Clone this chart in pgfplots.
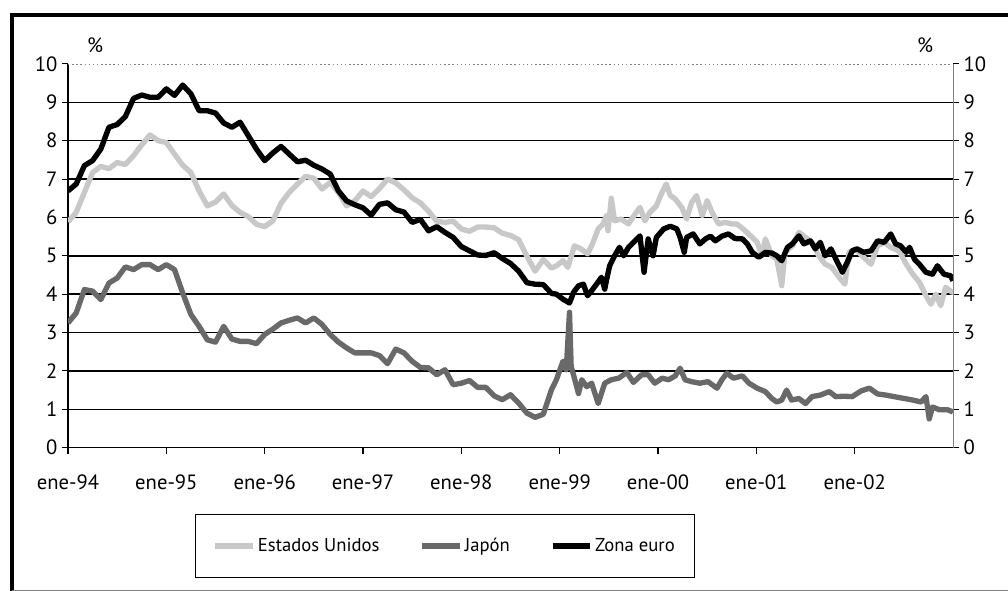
\documentclass[border=0pt]{standalone}
\usepackage{fontspec}
\setmainfont{PT Sans}
\usepackage{pgfplots}
\pgfplotsset{compat=1.18}
\definecolor{usgray}{RGB}{200,200,200}
\definecolor{jpgray}{RGB}{105,105,105}
\newcommand\ff{\fontsize{15.5}{18}\selectfont}
\newcommand\fl{\fontsize{14}{16}\selectfont}

\begin{document}
\begin{tikzpicture}[x=0.75pt,y=0.75pt]
\useasboundingbox (0,0) rectangle (1008,591);
% outer frame
\draw[line width=3pt] (11.7,0) -- (11.7,576.3) -- (1010,576.3);
\draw[gray, line width=0.8pt] (11.7,0.8) -- (1008,0.8);
\node[font=\ff] at (95,546) {\%};
\node[font=\ff] at (925,546) {\%};

% right-hand axis
\begin{axis}[
    at={(51pt,107.5pt)}, anchor=south west,
    scale only axis, width=663.75pt, height=287.8pt,
    xmin=0, xmax=108, ymin=0, ymax=10,
    axis x line=none, axis y line=right,
    axis line style={-, gray, line width=0.5pt},
    ytick={0,...,10},
    tick align=outside, major tick length=4.5pt,
    tick style={black, line width=0.8pt},
    tick label style={font=\ff},
    /pgf/number format/assume math mode=true,
]
\end{axis}

\begin{axis}[
    at={(51pt,107.5pt)}, anchor=south west,
    scale only axis, width=663.75pt, height=287.8pt,
    xmin=0, xmax=108, ymin=0, ymax=10,
    axis x line=bottom, axis y line=left,
    axis line style={-, black, line width=1pt},
    xtick={0,12,...,96},
    xticklabels={ene-94,ene-95,ene-96,ene-97,ene-98,ene-99,ene-00,ene-01,ene-02},
    ytick={0,...,9},
    extra y ticks={10},
    extra y tick style={grid style={gray, dotted, line width=0.5pt}},
    ymajorgrids, grid style={black, line width=1.1pt},
    tick align=outside, major tick length=4.5pt,
    tick style={black, line width=0.8pt},
    tick label style={font=\ff},
    xticklabel style={yshift=-12pt},
    /pgf/number format/assume math mode=true,
    legend style={at={(0.426,-0.256)}, anchor=center, draw=black,
        line width=1pt, font=\fl, legend columns=3,
        inner xsep=13pt, inner ysep=16pt,
        /tikz/every even column/.append style={column sep=28pt}},
    legend image code/.code={\draw[#1] (0pt,0pt) -- (28pt,0pt);},
]
\addplot[usgray, line width=4pt, line join=round] coordinates {
(0,5.88)(1,6.13)(2,6.65)(3,7.17)(4,7.33)(5,7.27)(6,7.43)(7,7.38)(8,7.61)(9,7.89)
(10,8.15)(11,8.00)(12,7.95)(13,7.65)(14,7.36)(15,7.17)(16,6.69)(17,6.30)(18,6.40)(19,6.61)
(20,6.31)(21,6.13)(22,6.02)(23,5.82)(24,5.76)(25,5.91)(26,6.37)(27,6.65)(28,6.87)(29,7.07)
(30,7.02)(31,6.74)(32,6.91)(33,6.65)(34,6.30)(35,6.43)(36,6.69)(37,6.54)(38,6.75)(39,7.00)
(40,6.90)(41,6.72)(42,6.51)(43,6.38)(44,6.16)(45,5.90)(46,5.87)(47,5.90)(48,5.70)(49,5.64)
(50,5.75)(51,5.75)(52,5.73)(53,5.59)(54,5.53)(55,5.42)(56,4.99)(57,4.60)(58,4.90)(59,4.68)
(59.6,4.74)(60.4,4.87)(61.0,4.70)(61.8,5.26)(62.6,5.18)(63.4,5.05)(64.0,5.31)(64.7,5.70)
(65.3,5.83)(65.7,6.04)(65.9,5.65)(66.3,6.50)(66.7,5.91)(67.5,5.96)(68.4,5.83)(69.2,6.09)
(69.8,6.26)(70.4,5.91)(71.0,6.13)(71.8,6.30)(72.4,6.61)(73.0,6.87)(73.5,6.57)(74.1,6.48)
(74.9,6.26)(75.5,5.96)(76.1,6.39)(76.7,6.57)(77.4,6.04)(78.0,6.44)(78.6,6.13)(79.4,5.83)
(80.2,5.87)(81.0,5.83)(81.6,5.83)(82.4,5.70)(83.4,5.50)(84.1,5.35)(84.7,5.00)(85.1,5.44)
(85.9,5.00)(86.5,4.91)(87.1,4.22)(87.5,5.09)(88.4,5.26)(89.2,5.61)(90.0,5.48)(90.8,5.35)
(91.6,5.00)(92.4,4.78)(93.2,4.70)(94.1,4.44)(94.8,4.26)(95.3,5.09)(96.1,5.18)(96.9,5.00)
(98.0,4.78)(98.8,5.26)(99.6,5.35)(100.4,5.22)(101.4,5.13)(102.3,4.78)(103.1,4.52)
(103.9,4.31)(104.7,3.96)(105.3,3.74)(105.9,4.00)(106.5,3.70)(107.1,4.18)(107.9,4.05)(108,4.10)
};
\addlegendentry{Estados Unidos}
\addplot[jpgray, line width=4pt, line join=round] coordinates {
(0,3.25)(1,3.51)(2,4.12)(3,4.08)(4,3.86)(5,4.29)(6,4.42)(7,4.71)(8,4.64)(9,4.77)
(10,4.77)(11,4.64)(12,4.77)(13,4.64)(14,4.03)(15,3.47)(16,3.16)(17,2.81)(18,2.75)(19,3.16)
(20,2.83)(21,2.77)(22,2.77)(23,2.71)(24,2.95)(25,3.09)(26,3.25)(27,3.32)(28,3.38)(29,3.25)
(30,3.38)(31,3.21)(32,2.95)(33,2.75)(34,2.60)(35,2.47)(36,2.47)(37,2.47)(38,2.40)(39,2.19)
(40,2.57)(41,2.47)(42,2.25)(43,2.09)(44,2.08)(45,1.90)(46,2.03)(47,1.64)(48,1.68)(49,1.75)
(50,1.57)(51,1.57)(52,1.35)(53,1.25)(54,1.38)(55,1.16)(56,0.90)(57,0.79)(58,0.87)(59,1.51)
(59.6,1.77)(60.4,2.25)(60.8,2.03)(61.2,3.53)(61.4,2.12)(61.8,1.81)(62.3,1.41)(62.7,1.77)
(63.3,1.59)(63.9,1.68)(64.7,1.15)(65.5,1.68)(66.3,1.77)(67.2,1.81)(68.2,1.96)(69.0,1.70)
(70.0,1.90)(70.8,1.90)(71.6,1.68)(72.5,1.81)(73.3,1.77)(74.1,1.87)(74.7,2.07)(75.3,1.77)
(76.1,1.72)(77.1,1.68)(78.1,1.72)(79.2,1.55)(79.8,1.77)(80.4,1.94)(81.2,1.81)(82.3,1.87)
(83.1,1.68)(84.1,1.55)(85.1,1.46)(85.9,1.28)(86.5,1.19)(87.1,1.24)(87.7,1.50)(88.3,1.24)
(89.2,1.28)(90.0,1.15)(90.8,1.33)(91.8,1.37)(92.9,1.46)(93.7,1.33)(94.7,1.34)(95.7,1.33)
(96.8,1.48)(97.8,1.55)(98.8,1.40)(99.8,1.37)(100.8,1.33)(102.1,1.28)(103.1,1.24)(104.1,1.19)
(104.7,1.33)(105.1,0.75)(105.5,1.06)(106.3,0.99)(107.3,0.99)(108,0.93)
};
\addlegendentry{Japón}
\addplot[black, line width=4pt, line join=round] coordinates {
(0,6.69)(1,6.87)(2,7.35)(3,7.48)(4,7.78)(5,8.35)(6,8.42)(7,8.63)(8,9.10)(9,9.19)
(10,9.13)(11,9.13)(12,9.35)(13,9.18)(14,9.45)(15,9.22)(16,8.78)(17,8.78)(18,8.72)(19,8.46)
(20,8.35)(21,8.48)(22,8.13)(23,7.78)(24,7.48)(25,7.68)(26,7.85)(27,7.65)(28,7.45)(29,7.49)
(30,7.36)(31,7.26)(32,7.13)(33,6.69)(34,6.43)(35,6.33)(36,6.25)(37,6.06)(38,6.34)(39,6.38)
(40,6.20)(41,6.14)(42,5.87)(43,5.95)(44,5.65)(45,5.76)(46,5.61)(47,5.48)(48,5.24)(49,5.13)
(50,5.02)(51,5.01)(52,5.08)(53,4.93)(54,4.80)(55,4.60)(56,4.30)(57,4.26)(58,4.25)(59,4.02)
(59.6,4.00)(60.4,3.87)(61.2,3.77)(61.7,4.05)(62.3,4.22)(62.9,4.26)(63.4,3.96)(63.9,4.09)
(64.5,4.26)(65.1,4.44)(65.5,4.13)(65.7,4.35)(66.1,4.74)(66.7,5.00)(67.3,5.22)(67.8,5.00)
(68.4,5.22)(69.2,5.39)(69.8,5.52)(70.3,4.57)(70.8,5.44)(71.4,5.00)(71.8,5.48)(72.7,5.70)
(73.5,5.77)(74.3,5.70)(74.7,5.48)(75.2,5.09)(75.5,5.48)(76.3,5.57)(77.1,5.31)(77.8,5.44)
(78.4,5.51)(79.0,5.39)(79.8,5.51)(80.6,5.57)(81.4,5.45)(82.3,5.44)(82.9,5.31)(83.5,5.09)
(84.3,4.96)(85.1,5.09)(85.9,5.07)(86.5,5.00)(87.1,4.87)(87.8,5.22)(88.4,5.31)(89.2,5.52)
(89.8,5.31)(90.6,5.39)(91.2,5.18)(91.8,5.35)(92.4,5.00)(93.1,5.18)(93.9,4.83)(94.5,4.57)
(95.1,4.83)(95.7,5.13)(96.3,5.18)(97.1,5.09)(98.0,5.13)(98.8,5.39)(99.6,5.35)(100.4,5.57)
(101.0,5.31)(101.6,5.26)(102.3,5.09)(102.7,5.22)(103.3,4.91)(103.9,4.78)(104.7,4.57)
(105.5,4.52)(106.1,4.74)(106.9,4.52)(107.7,4.48)(108,4.35)
};
\addlegendentry{Zona euro}
\end{axis}
\end{tikzpicture}
\end{document}
